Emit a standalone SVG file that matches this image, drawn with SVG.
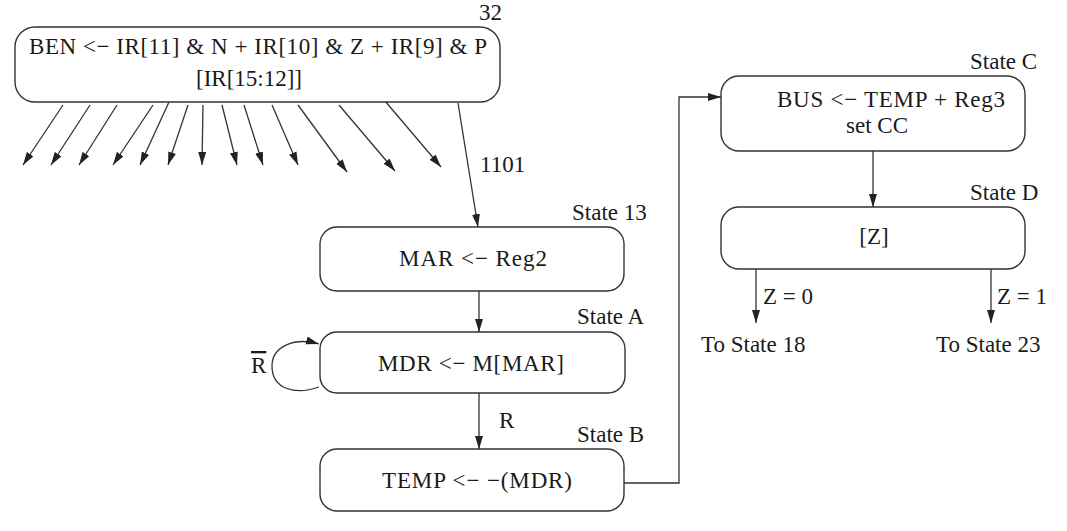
<svg xmlns="http://www.w3.org/2000/svg" width="1067" height="531" viewBox="0 0 1067 531">
<defs>
<style>
.box{fill:#fff;stroke:#333;stroke-width:1.4}
.ln{fill:none;stroke:#333;stroke-width:1.3}
text{font-family:"Liberation Serif","Times New Roman",serif;font-size:23px;fill:#1a1a1a}
.c{text-anchor:middle}
.e{text-anchor:end}
</style>
<marker id="ah" markerWidth="14" markerHeight="9" refX="13" refY="4" orient="auto" markerUnits="userSpaceOnUse">
<path d="M0,0 L13,4 L0,8 z" fill="#222"/>
</marker>
</defs>
<rect width="1067" height="531" fill="#fff"/>

<g id="connectors">
<line class="ln" x1="63" y1="105" x2="23" y2="165" marker-end="url(#ah)"/>
<line class="ln" x1="90" y1="105" x2="51" y2="165" marker-end="url(#ah)"/>
<line class="ln" x1="117" y1="105" x2="79" y2="165" marker-end="url(#ah)"/>
<line class="ln" x1="153" y1="105" x2="113" y2="165" marker-end="url(#ah)"/>
<line class="ln" x1="169" y1="102" x2="140" y2="165" marker-end="url(#ah)"/>
<line class="ln" x1="188" y1="105" x2="168" y2="165" marker-end="url(#ah)"/>
<line class="ln" x1="203" y1="105" x2="202" y2="165" marker-end="url(#ah)"/>
<line class="ln" x1="222" y1="105" x2="237" y2="165" marker-end="url(#ah)"/>
<line class="ln" x1="244" y1="105" x2="263" y2="165" marker-end="url(#ah)"/>
<line class="ln" x1="272" y1="105" x2="298" y2="165" marker-end="url(#ah)"/>
<line class="ln" x1="298" y1="105" x2="347" y2="172" marker-end="url(#ah)"/>
<line class="ln" x1="339" y1="105" x2="395" y2="171" marker-end="url(#ah)"/>
<line class="ln" x1="385" y1="101" x2="441" y2="167" marker-end="url(#ah)"/>
<line class="ln" x1="458" y1="103" x2="478" y2="227" marker-end="url(#ah)"/>
<line class="ln" x1="479" y1="291" x2="479" y2="332" marker-end="url(#ah)"/>
<path class="ln" d="M319,387 C296,395 272,390 272,366 C272,346 295,337 319,344" marker-end="url(#ah)"/>
<line class="ln" x1="479" y1="393" x2="479" y2="449" marker-end="url(#ah)"/>
<path class="ln" d="M624,483 H679 V97 H721" marker-end="url(#ah)"/>
<line class="ln" x1="873" y1="151" x2="873" y2="207" marker-end="url(#ah)"/>
<line class="ln" x1="756" y1="269" x2="756" y2="323" marker-end="url(#ah)"/>
<line class="ln" x1="991" y1="269" x2="991" y2="323" marker-end="url(#ah)"/>
<text x="480" y="172">1101</text>
<text x="499" y="428">R</text>
<text x="251" y="373" text-decoration="overline">R</text>
<text x="763" y="304">Z = 0</text>
<text x="997" y="304">Z = 1</text>
</g>

<g id="state32">
<rect class="box" x="15" y="27" width="485" height="75" rx="20"/>
<text class="c" x="258" y="54" textLength="458" lengthAdjust="spacing">BEN &lt;− IR[11] &amp; N + IR[10] &amp; Z + IR[9] &amp; P</text>
<text class="c" x="249" y="86">[IR[15:12]]</text>
<text class="e" x="502" y="20">32</text>
</g>

<g id="state13">
<rect class="box" x="320" y="227" width="304" height="64" rx="17"/>
<text class="c" x="473" y="266" textLength="148" lengthAdjust="spacing">MAR &lt;− Reg2</text>
<text x="572" y="220">State 13</text>
</g>

<g id="stateA">
<rect class="box" x="320" y="332" width="305" height="61" rx="17"/>
<text class="c" x="471" y="371" textLength="186" lengthAdjust="spacing">MDR &lt;− M[MAR]</text>
<text x="577" y="324">State A</text>
</g>

<g id="stateB">
<rect class="box" x="320" y="449" width="304" height="62" rx="17"/>
<text class="c" x="477" y="488" textLength="190" lengthAdjust="spacing">TEMP &lt;− −(MDR)</text>
<text x="577" y="442">State B</text>
</g>

<g id="stateC">
<rect class="box" x="721" y="76" width="304" height="75" rx="18"/>
<text class="c" x="891" y="107" textLength="228" lengthAdjust="spacing">BUS &lt;− TEMP + Reg3</text>
<text class="c" x="877" y="133">set CC</text>
<text x="970" y="69">State C</text>
</g>

<g id="stateD">
<rect class="box" x="721" y="207" width="304" height="62" rx="18"/>
<text class="c" x="874" y="244">[Z]</text>
<text x="970" y="200">State D</text>
</g>

<g id="to18">
<text x="701" y="352">To State 18</text>
</g>
<g id="to23">
<text x="936" y="352">To State 23</text>
</g>
</svg>
